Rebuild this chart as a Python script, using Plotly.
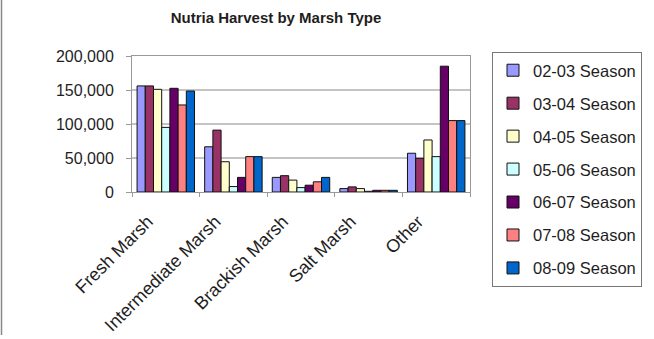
import plotly.graph_objects as go

# Harvest counts by marsh type, one series per trapping season
marsh_types = ["Fresh Marsh", "Intermediate Marsh", "Brackish Marsh", "Salt Marsh", "Other"]
seasons = ["02-03 Season", "03-04 Season", "04-05 Season", "05-06 Season",
           "06-07 Season", "07-08 Season", "08-09 Season"]

season_02_03 = [156000, 66500, 21500, 5000, 57000]
season_03_04 = [156000, 91000, 24000, 7500, 49500]
season_04_05 = [151000, 44500, 17500, 5000, 76500]
season_05_06 = [95000, 8000, 6500, 1000, 52000]
season_06_07 = [152500, 21500, 10000, 2500, 185000]
season_07_08 = [128000, 52000, 15000, 2500, 105000]
season_08_09 = [148500, 52000, 21500, 2500, 105000]

series = [season_02_03, season_03_04, season_04_05, season_05_06,
          season_06_07, season_07_08, season_08_09]
colors = ["#9999FF", "#993366", "#FFFFCC", "#CCFFFF", "#660066", "#FF8080", "#0066CC"]

y_ticks = [0, 50000, 100000, 150000, 200000]

W, H = 654, 339
L, R, T, B = 132, 184, 56, 147
FONT = "Liberation Sans, Arial, sans-serif"
INK = "#1e1e1e"

fig = go.Figure()
for name, vals, col in zip(seasons, series, colors):
    fig.add_trace(go.Bar(
        x=marsh_types, y=vals, name=name, legendgroup=name,
        marker=dict(color=col, line=dict(color="#111111", width=1)),
    ))

def px_x(px):
    return (px - L) / (W - L - R)

def px_y(py):
    return (H - B - py) / (H - T - B)

fig.update_layout(
    width=W, height=H,
    margin=dict(l=L, r=R, t=T, b=B, autoexpand=False),
    paper_bgcolor="white", plot_bgcolor="white",
    font=dict(family=FONT, size=16, color=INK),
    title=dict(text="<b>Nutria Harvest by Marsh Type</b>", x=276 / W, xref="container",
               xanchor="center", y=1 - 18 / H, yanchor="middle",
               font=dict(size=15, family=FONT, color=INK)),
    barmode="group", bargap=0.15, bargroupgap=0,
    legend=dict(x=px_x(492), y=px_y(52), xanchor="left", yanchor="top",
                bordercolor="#777777", borderwidth=1, bgcolor="white",
                font=dict(size=16.5, family=FONT, color=INK),
                tracegroupgap=8.5, traceorder="grouped", maxheight=400,
                itemwidth=30),
    xaxis=dict(showline=True, linecolor="#999999", linewidth=1, mirror=True,
               ticks="outside", ticklen=4, tickcolor="#999999",
               tickson="boundaries", tickangle=-45, showgrid=False,
               automargin=False,
               tickfont=dict(size=18, family=FONT, color=INK),
               ticklabelstandoff=11, ticklabelshift=-18),
    yaxis=dict(range=[0, 200000], tickvals=y_ticks, tickformat=",",
               showline=True, linecolor="#999999", linewidth=1, mirror=True,
               gridcolor="#C4C4C4", gridwidth=2, ticks="outside", ticklen=5,
               tickcolor="#999999", zeroline=False, ticklabelstandoff=9,
               automargin=False,
               tickfont=dict(size=16, family=FONT, color=INK)),
    shapes=[dict(type="line", xref="paper", yref="paper",
                 x0=px_x(1.5), x1=px_x(1.5), y0=px_y(0), y1=px_y(335),
                 line=dict(color="#888888", width=1.5))],
)

fig.write_html("out.html")
